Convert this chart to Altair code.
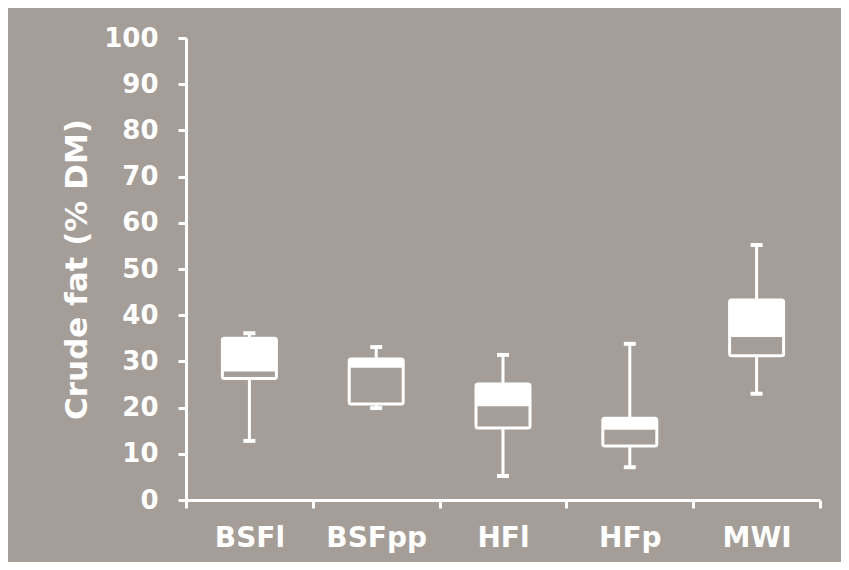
import altair as alt
import pandas as pd

categories = ["BSFl", "BSFpp", "HFl", "HFp", "MWI"]
whisker_low = [12.8, 19.9, 5.2, 7.1, 23.0]
q1 = [26.3, 20.8, 15.6, 11.7, 31.2]
median = [27.8, 28.6, 20.3, 15.2, 35.3]
q3 = [35.0, 30.5, 25.1, 17.7, 43.3]
whisker_high = [36.1, 33.1, 31.4, 33.8, 55.2]
y_ticks = list(range(0, 101, 10))

df = pd.DataFrame({
    "cat": categories, "lo": whisker_low, "q1": q1, "med": median,
    "q3": q3, "hi": whisker_high,
})

BG = "#a59d97"
WHITE = "#ffffff"
FONT = "DejaVu Sans"

x = alt.X("cat:N", sort=categories, title=None,
          scale=alt.Scale(paddingInner=0, paddingOuter=0),
          axis=alt.Axis(tickBand="extent", domainColor=WHITE, domainWidth=3,
                        tickColor=WHITE, tickWidth=3, tickSize=8,
                        labelColor=WHITE, labelFont=FONT, labelFontSize=28,
                        labelFontWeight="bold", labelAngle=0, labelPadding=16))
yscale = alt.Scale(domain=[0, 100], nice=False)
yaxis = alt.Axis(values=y_ticks, domainColor=WHITE, domainWidth=3,
                 tickColor=WHITE, tickWidth=3, tickSize=8, grid=False,
                 labelColor=WHITE, labelFont=FONT, labelFontSize=26,
                 labelFontWeight="bold", labelPadding=20,
                 title="Crude fat (% DM)", titleColor=WHITE, titleFont=FONT,
                 titleFontSize=31, titleFontWeight="bold", titlePadding=10)

base = alt.Chart(df)

whisk_lo = base.mark_rule(color=WHITE, strokeWidth=3).encode(
    x=x, y=alt.Y("lo:Q", scale=yscale, axis=yaxis), y2="q1:Q")
whisk_hi = base.mark_rule(color=WHITE, strokeWidth=3).encode(
    x=x, y=alt.Y("q3:Q", scale=yscale), y2="hi:Q")
cap_lo = base.mark_tick(color=WHITE, size=12, thickness=4, opacity=1).encode(
    x=x, y=alt.Y("lo:Q", scale=yscale))
cap_hi = base.mark_tick(color=WHITE, size=12, thickness=4, opacity=1).encode(
    x=x, y=alt.Y("hi:Q", scale=yscale))
box = base.mark_bar(size=54, fill=BG, stroke=WHITE, strokeWidth=3,
                    cornerRadius=2).encode(
    x=x, y=alt.Y("q1:Q", scale=yscale), y2="q3:Q")
upper = base.mark_bar(size=54, color=WHITE, cornerRadius=2).encode(
    x=x, y=alt.Y("med:Q", scale=yscale), y2="q3:Q")

chart = alt.layer(whisk_lo, whisk_hi, cap_lo, cap_hi, box, upper).properties(
    width=634, height=462,
    background=BG,
    padding={"left": 178, "top": 30, "right": 21, "bottom": 62},
    autosize=alt.AutoSizeParams(type="none"),
).configure_view(stroke=None, fill=BG)

chart.save("out.html", embed_options={"renderer": "svg", "actions": False})
